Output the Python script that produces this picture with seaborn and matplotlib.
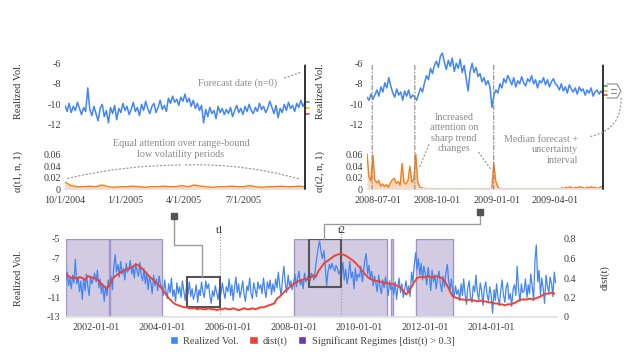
import pandas as pd
import matplotlib
matplotlib.use("Agg")
import matplotlib.pyplot as plt
import matplotlib.dates as mdates
from matplotlib.patches import Rectangle, Patch, ConnectionPatch, FancyArrowPatch
from matplotlib.lines import Line2D
import seaborn as sns

# ------------------------------------------------------------------
# data
# ------------------------------------------------------------------
# bottom panel: realized vol, semi-monthly, 2001-02 .. 2015-12
bottom_vol = [
    -9.2, -8.4, -9.8, -9.0, -10.1, -8.7, -9.5, -7.1, -9.6, -8.9, -10.4, -9.3, -11.2, -9.0, -10.3, -8.6, -9.9, -10.8, -8.8, -9.6, -9.1, -8.5,
    -9.4, -8.2, -10.0, -9.1, -10.6, -9.6, -11.4, -9.8, -10.8, -9.2, -9.9, -8.8, -10.2, -7.9, -6.6, -8.4, -7.6, -8.9, -7.3, -8.6, -8.0, -9.2, -7.5, -8.4,
    -8.1, -7.2, -8.6, -7.9, -9.0, -7.5, -8.3, -8.8, -7.4, -8.7, -9.3, -8.0, -9.6, -8.4, -10.2, -8.9, -9.5, -10.6, -8.7, -9.8, -9.1, -10.3, -8.8, -9.7,
    -9.9, -10.8, -9.2, -10.4, -11.1, -9.6, -10.5, -9.0, -10.9, -10.2, -11.4, -9.5, -10.6, -9.9, -11.0, -9.3, -10.4, -11.3, -9.8, -10.7, -9.4, -10.9, -10.1, -11.2,
    -10.6, -9.7, -11.5, -10.2, -10.8, -9.4, -10.5, -11.0, -9.3, -10.1, -9.6, -10.8, -11.6, -10.3, -10.9, -9.8, -10.6, -11.2, -10.0, -10.7, -9.5, -10.4, -11.1, -9.9,
    -10.4, -9.1, -10.8, -9.7, -11.3, -10.1, -8.9, -10.5, -9.6, -11.0, -10.2, -9.3, -10.7, -11.4, -9.8, -10.3, -9.0, -10.6, -11.1, -9.5, -10.2, -10.9, -9.4, -10.1,
    -9.7, -10.6, -9.0, -10.3, -11.0, -9.4, -10.1, -9.2, -10.7, -9.6, -10.4, -9.1, -10.0, -8.4, -9.9, -10.8, -8.9, -7.8, -9.6, -10.5, -8.7, -9.8, -9.3, -10.2,
    -9.5, -8.6, -9.9, -9.0, -8.3, -9.7, -9.2, -10.1, -8.5, -9.4, -9.0, -8.7, -9.3, -8.5, -8.9, -9.2, -7.8, -6.8, -5.8, -5.2, -6.4, -7.0, -6.2, -7.6,
    -9.8, -8.4, -7.6, -8.1, -7.5, -7.9, -8.3, -7.7, -8.0, -8.6, -8.2, -8.8, -7.4, -9.2, -8.1, -9.6, -8.7, -7.3, -9.0, -8.4, -10.1, -8.0, -9.3, -8.6,
    -8.9, -7.8, -9.4, -8.2, -7.1, -6.5, -8.6, -7.7, -9.1, -8.3, -9.8, -8.8, -9.5, -10.4, -8.7, -9.9, -10.6, -9.2, -10.0, -8.9, -9.7, -10.8, -9.3, -10.2,
    -9.9, -10.7, -9.4, -11.2, -10.1, -9.0, -10.5, -9.6, -11.0, -10.2, -9.3, -10.4, -9.8, -10.9, -8.4, -9.5, -7.6, -6.4, -8.1, -7.0, -8.7, -7.5, -9.2, -7.8,
    -8.6, -9.7, -7.9, -8.9, -10.3, -8.2, -9.4, -8.7, -10.1, -9.0, -8.3, -9.6, -10.4, -8.8, -9.9, -8.5, -7.6, -9.3, -10.2, -9.1, -10.6, -11.0, -9.8, -10.7,
    -10.2, -11.3, -9.6, -10.8, -9.1, -10.5, -11.7, -10.0, -9.3, -10.9, -11.5, -9.8, -10.4, -8.7, -10.6, -11.2, -9.5, -10.3, -11.8, -10.1, -9.4, -10.7, -11.4, -9.9,
    -10.8, -12.6, -10.2, -11.3, -9.6, -10.9, -11.8, -10.4, -9.2, -10.7, -11.5, -10.0, -9.5, -11.2, -10.6, -11.9, -10.1, -9.7, -10.8, -7.8, -10.3, -11.4, -9.6, -10.5,
    -10.3, -9.1, -11.0, -9.7, -10.6, -8.6, -9.9, -11.3, -7.2, -5.6, -9.4, -8.2, -10.8, -9.0, -10.2, -11.6, -8.7, -9.8, -10.5, -8.9, -9.6, -10.9, -8.4, -9.5,
]
bottom_start = "2001-02-01"

# bottom panel: dist(t), monthly, 2001-02 .. 2015-12
dist_vals = [
    0.44, 0.42, 0.40, 0.41, 0.39, 0.41, 0.40, 0.38, 0.42, 0.41, 0.40,
    0.39, 0.37, 0.34, 0.31, 0.29, 0.34, 0.39, 0.42, 0.44, 0.46, 0.47, 0.49,
    0.50, 0.51, 0.53, 0.54, 0.52, 0.49, 0.46, 0.43, 0.40, 0.38, 0.35, 0.32,
    0.29, 0.25, 0.21, 0.18, 0.15, 0.13, 0.12, 0.11, 0.10, 0.10, 0.09, 0.09,
    0.09, 0.08, 0.09, 0.08, 0.08, 0.09, 0.08, 0.08, 0.07, 0.08, 0.08, 0.09,
    0.08, 0.08, 0.09, 0.08, 0.07, 0.08, 0.09, 0.08, 0.08, 0.09, 0.08, 0.09,
    0.10, 0.10, 0.11, 0.12, 0.13, 0.14, 0.19, 0.21, 0.24, 0.27, 0.29, 0.32,
    0.34, 0.36, 0.37, 0.38, 0.39, 0.39, 0.40, 0.43, 0.41, 0.47, 0.51, 0.55,
    0.57, 0.59, 0.61, 0.63, 0.64, 0.65, 0.64, 0.63, 0.61, 0.59, 0.57, 0.54,
    0.51, 0.47, 0.44, 0.41, 0.39, 0.38, 0.37, 0.37, 0.36, 0.35, 0.35, 0.34,
    0.34, 0.33, 0.32, 0.30, 0.27, 0.23, 0.26, 0.31, 0.36, 0.40, 0.41, 0.41,
    0.41, 0.42, 0.41, 0.41, 0.42, 0.41, 0.40, 0.37, 0.32, 0.26, 0.21, 0.20,
    0.19, 0.18, 0.18, 0.17, 0.18, 0.17, 0.17, 0.16, 0.17, 0.16, 0.16, 0.15,
    0.15, 0.14, 0.14, 0.13, 0.13, 0.12, 0.13, 0.13, 0.14, 0.15, 0.17, 0.18,
    0.18, 0.18, 0.19, 0.18, 0.19, 0.20, 0.21, 0.23, 0.24, 0.24, 0.25, 0.24,
]
dist_start = "2001-02-01"

# significant regimes (dist > 0.3)
regime_starts = ["2001-02-01", "2002-06-05", "2008-01-10", "2010-12-18", "2011-09-22"]
regime_ends = ["2002-05-20", "2004-01-05", "2010-11-05", "2011-01-08", "2012-10-30"]

bottom_ticks = ["2002-01-01", "2004-01-01", "2006-01-01", "2008-01-01",
                "2010-01-01", "2012-01-01", "2014-01-01"]

# top-left window (t1)
t1_start, t1_end = "2004-10-01", "2005-10-04"
t1_vol = [
    -10.1, -10.7, -9.9, -10.8, -10.2, -10.6, -9.8, -10.4, -11.0, -10.3, -10.7, -8.4, -10.5, -11.1, -10.2, -10.9,
    -11.6, -10.4, -10.0, -11.2, -10.6, -11.8, -10.3, -10.9, -10.1, -11.5, -10.4, -10.8, -9.9, -10.6, -10.2, -11.0,
    -10.5, -9.8, -10.7, -10.3, -11.1, -10.0, -10.6, -9.7, -10.4, -10.9, -10.2, -9.9, -10.8, -10.3, -9.6, -10.5,
    -10.1, -10.7, -9.4, -9.9, -9.2, -9.8, -9.5, -10.1, -9.3, -9.7, -9.0, -9.8, -9.4, -10.2, -9.6, -10.4,
    -9.9, -10.6, -10.1, -11.8, -10.5, -11.2, -10.3, -10.9, -10.6, -11.4, -10.2, -10.8, -10.4, -11.0, -10.5, -10.9,
    -10.3, -11.2, -10.6, -10.1, -10.8, -10.4, -11.0, -10.2, -10.7, -10.0, -10.6, -10.9, -10.3, -10.7, -9.9, -10.5,
    -10.2, -10.8, -10.4, -9.7, -10.3, -10.9, -10.1, -11.3, -10.4, -10.8, -10.0, -10.6, -9.8, -10.4, -10.1, -10.7,
    -9.9, -10.3, -9.6, -10.2, -9.8,
]
t1_att = [
    0.012, 0.006, 0.004, 0.004, 0.005, 0.004, 0.007, 0.004, 0.003, 0.004,
    0.004, 0.005, 0.004, 0.003, 0.004, 0.004, 0.005, 0.004, 0.004, 0.006,
    0.004, 0.007, 0.005, 0.004, 0.003, 0.004, 0.004, 0.005, 0.004, 0.004,
    0.006, 0.004, 0.003, 0.004, 0.004, 0.005, 0.004, 0.004, 0.005, 0.004,
]
t1_ticks = ["2004-10-01", "2005-01-01", "2005-04-01", "2005-07-01"]
t1_tick_labels = ["10/1/2004", "1/1/2005", "4/1/2005", "7/1/2005"]
t1_forecast = [-9.8, -10.4, -10.9]
t1_box = (-12.0, -8.9)

# top-right window (t2)
t2_start, t2_end = "2008-06-14", "2009-06-14"
t2_vol = [
    -9.3, -9.6, -9.0, -9.5,
    -9.1, -8.6, -9.2, -8.3, -8.8, -7.9, -8.4, -7.4, -8.2, -8.9,
    -9.3, -8.5, -9.1, -8.8, -9.6, -8.7, -9.2, -8.6, -9.4, -9.1, -9.3,
    -9.6, -9.0, -8.4, -8.8, -7.9, -7.2, -7.6, -6.5, -7.0, -6.2, -5.8, -6.4, -5.3, -5.0, -5.9,
    -6.6, -5.7, -6.3, -5.5, -6.8, -6.0, -6.5, -5.6, -6.9, -6.2,
    -7.5, -8.7, -6.8, -6.0, -6.9, -6.4, -7.3, -7.0, -7.8, -7.4, -8.1, -7.7,
    -8.3, -10.3, -9.1, -8.6, -8.9, -8.0, -8.4, -7.5, -7.9, -7.2,
    -7.6, -8.1, -7.4, -8.3, -7.7, -8.0, -7.3, -7.9, -8.2, -7.5, -7.8, -7.2,
    -8.0, -7.6, -8.4, -7.7, -7.9, -7.4, -8.1, -7.6, -8.3, -7.8, -7.5, -8.0,
    -8.2, -8.6, -8.0, -8.7, -8.3, -8.9, -8.1, -8.5, -8.8, -8.4, -9.0, -8.3,
    -8.7, -8.5, -9.1, -8.6, -8.9, -8.4, -9.2, -8.8, -8.6, -9.0, -8.7, -9.0,
]
t2_att = [
    0.062, 0.022, 0.014, 0.060, 0.016, 0.011, 0.015, 0.005, 0.009, 0.004,
    0.008, 0.003, 0.011, 0.016, 0.019, 0.010, 0.013, 0.007, 0.045, 0.011,
    0.009, 0.015, 0.040, 0.012, 0.016, 0.062, 0.012, 0.004, 0.002, 0.001,
    0.001, 0.0005, 0.0006, 0.0004, 0.0005, 0.0007, 0.0005, 0.0004, 0.0006, 0.0005,
    0.0004, 0.0005, 0.0006, 0.0005, 0.0004, 0.0005, 0.0007, 0.0005, 0.0004, 0.0005,
    0.0006, 0.0005, 0.0004, 0.0005, 0.0006, 0.0005, 0.0004, 0.0005, 0.0006, 0.0005,
    0.0004, 0.0006, 0.0005, 0.0007, 0.0010, 0.046, 0.014, 0.004, 0.001,
    0.0008, 0.0006, 0.0005, 0.0004, 0.0005, 0.0006, 0.0005, 0.0004, 0.0005, 0.0006,
    0.0005, 0.0004, 0.0005, 0.0006, 0.0005, 0.0004, 0.0005, 0.0006, 0.0005, 0.0004,
    0.0005, 0.0006, 0.0005, 0.0004, 0.0005, 0.0006, 0.0005, 0.0004, 0.0005, 0.0006, 0.0005,
    0.002, 0.001, 0.003, 0.001, 0.004, 0.002, 0.001, 0.003, 0.002, 0.004, 0.003,
    0.002, 0.001, 0.003, 0.002, 0.004, 0.002, 0.003, 0.001, 0.002, 0.004, 0.003,
]
t2_ticks = ["2008-07-01", "2008-10-01", "2009-01-01", "2009-04-01"]
t2_tick_labels = ["2008-07-01", "2008-10-01", "2009-01-01", "2009-04-01"]
t2_events = ["2008-06-22", "2008-08-27", "2008-12-27"]
t2_forecast = [-8.2, -8.7, -9.1]
t2_box = (-9.9, -5.0)

# ------------------------------------------------------------------
# style
# ------------------------------------------------------------------
sns.set_theme(style="white")
plt.rcParams["font.family"] = ["Liberation Serif", "DejaVu Serif"]
plt.rcParams["font.size"] = 7
plt.rcParams["axes.unicode_minus"] = False

BLUE = "#4285F4"
RED = "#EA4335"
ORANGE = "#FA7B17"
PURPLE = "#673AB7"
GREEN = "#34A853"
YELLOW = "#FBBC05"
SPAN_FILL = "#d2cbe2"
SPAN_EDGE = "#a293cf"
TXT = "#3c3c3c"
NOTE = "#8a8a8a"

W, H = 631, 359
fig = plt.figure(figsize=(W / 100, H / 100), dpi=100)


def fp(x, y):
    # pixel position -> figure fraction
    return (x / W, 1 - y / H)


def dn(d):
    return mdates.date2num(pd.Timestamp(d))


def clean(ax):
    for s in ax.spines.values():
        s.set_visible(False)
    ax.tick_params(length=0, labelsize=7.3, labelcolor=TXT)
    ax.set_xlabel("")
    ax.set_ylabel("")


def top_panel(left, width, start, end, vol, att, ticks, tick_labels, alabel, fc):
    start, end = pd.Timestamp(start), pd.Timestamp(end)
    df_v = pd.DataFrame({"date": pd.date_range(start, end, periods=len(vol)), "vol": vol})
    df_a = pd.DataFrame({"date": pd.date_range(start, end, periods=len(att)), "att": att})

    axv = fig.add_axes([left / W, 1 - 130 / H, width / W, 78 / H])
    sns.lineplot(data=df_v, x="date", y="vol", ax=axv, color=BLUE, lw=1.1)
    axv.set_xlim(start, end)
    axv.set_ylim(-12.5, -4.9)
    axv.set_yticks([-12, -10, -8, -6])
    axv.set_xticks([])
    clean(axv)
    axv.tick_params(axis="y", pad=3)
    axv.set_ylabel("Realized Vol.", fontsize=7.5, color="#333333")
    axv.yaxis.set_label_coords(-42 / width, 0.5)

    # forecast quantile ticks just after the forecast date
    for val, col in zip(fc, [GREEN, YELLOW, RED]):
        axv.plot([end + pd.Timedelta(days=1), end + pd.Timedelta(days=6)], [val, val],
                 color=col, lw=1.2, clip_on=False)

    axa = fig.add_axes([left / W, 1 - 189 / H, width / W, 38 / H])
    sns.lineplot(data=df_a, x="date", y="att", ax=axa, color=ORANGE, lw=1.0)
    axa.fill_between(df_a["date"], df_a["att"], color=ORANGE, alpha=0.3, lw=0)
    axa.set_xlim(start, end)
    axa.set_ylim(0, 0.067)
    axa.set_yticks([0, 0.02, 0.04, 0.06])
    axa.set_yticklabels(["0", "0.02", "0.04", "0.06"])
    axa.set_xticks(pd.to_datetime(ticks))
    axa.set_xticklabels(tick_labels)
    clean(axa)
    axa.tick_params(axis="y", pad=3)
    axa.tick_params(axis="x", pad=5)
    axa.spines["bottom"].set_visible(True)
    axa.spines["bottom"].set_color("#e2e2e2")
    axa.set_ylabel(alabel, fontsize=7.5, color="#333333")
    axa.yaxis.set_label_coords(-42 / width, 0.45)

    # forecast date line across both axes
    con = ConnectionPatch(xyA=(dn(end), -6.2), coordsA=axv.transData,
                          xyB=(dn(end), 0), coordsB=axa.transData,
                          color="#222222", lw=1.3)
    fig.add_artist(con)
    return axv, axa


axv1, axa1 = top_panel(65, 240, t1_start, t1_end, t1_vol, t1_att,
                       t1_ticks, t1_tick_labels, "α(t1, n, 1)", t1_forecast)
axv2, axa2 = top_panel(367, 236, t2_start, t2_end, t2_vol, t2_att,
                       t2_ticks, t2_tick_labels, "α(t2, n, 1)", t2_forecast)

for d in t2_events:
    con = ConnectionPatch(xyA=(dn(d), -6.2), coordsA=axv2.transData,
                          xyB=(dn(d), 0), coordsB=axa2.transData,
                          color="#888888", lw=0.8, linestyle=(0, (4, 2, 1, 2)))
    fig.add_artist(con)

# ------------------------------------------------------------------
# bottom panel
# ------------------------------------------------------------------
df_b = pd.DataFrame({"date": pd.date_range(bottom_start, periods=len(bottom_vol), freq="SMS"),
                     "vol": bottom_vol})
df_d = pd.DataFrame({"date": pd.date_range(dist_start, periods=len(dist_vals), freq="MS"),
                     "dist": dist_vals})

axb = fig.add_axes([66 / W, 1 - 317 / H, 491 / W, 78 / H])
for s, e in zip(regime_starts, regime_ends):
    axb.axvspan(pd.Timestamp(s), pd.Timestamp(e), facecolor=SPAN_FILL,
                edgecolor=SPAN_EDGE, lw=1.0, zorder=0)
sns.lineplot(data=df_b, x="date", y="vol", ax=axb, color=BLUE, lw=0.9, zorder=2)
axb.set_xlim(pd.Timestamp("2001-02-01"), pd.Timestamp("2015-12-31"))
axb.set_ylim(-13, -5)
axb.set_yticks([-13, -11, -9, -7, -5])
axb.set_xticks(pd.to_datetime(bottom_ticks))
axb.set_xticklabels(bottom_ticks)
clean(axb)
axb.tick_params(axis="x", pad=4)
axb.tick_params(axis="y", pad=4)
axb.spines["bottom"].set_visible(True)
axb.spines["bottom"].set_color("#e2e2e2")
axb.set_ylabel("Realized Vol.", fontsize=7.5, color="#333333")
axb.yaxis.set_label_coords(-43 / 491, 0.5)

axr = axb.twinx()
axr.fill_between(df_d["date"], df_d["dist"] - 0.012, df_d["dist"] + 0.012,
                 color=RED, alpha=0.2, lw=0)
sns.lineplot(data=df_d, x="date", y="dist", ax=axr, color=RED, lw=1.3)
axr.set_ylim(0, 0.8)
axr.set_yticks([0, 0.2, 0.4, 0.6, 0.8])
axr.set_yticklabels(["0", "0.2", "0.4", "0.6", "0.8"])
clean(axr)
axr.tick_params(axis="y", pad=5)
axr.set_ylabel("dist(t)", fontsize=7.5, color="#333333")
axr.yaxis.set_label_coords(1 + 43 / 491, 0.5)

# window boxes + t markers
for (start, end, (ylo, yhi), name) in [(t1_start, t1_end, t1_box, "t1"),
                                       (t2_start, t2_end, t2_box, "t2")]:
    s, e = dn(start), dn(end)
    axb.add_patch(Rectangle((s, ylo), e - s, yhi - ylo, fill=False,
                            edgecolor="#555555", lw=1.5, zorder=5))
    axb.axvline(pd.Timestamp(end), ymin=0, ymax=1.08, color="#999999", lw=0.8, ls=":",
                clip_on=False)
    axb.text(pd.Timestamp(end), -4.1, name, ha="center", va="center", fontsize=7.3,
             color="#222222")

# connectors from the zoom panels to the boxes
for pts, sq in [([(174, 216), (174, 245), (202, 245), (202, 277)], (174, 216)),
                ([(480, 212), (480, 224), (324, 224), (324, 239)], (480, 212))]:
    xs, ys = zip(*[fp(x, y) for x, y in pts])
    fig.add_artist(Line2D(xs, ys, transform=fig.transFigure, color="#9a9a9a", lw=1.0))
    fig.add_artist(Line2D([fp(*sq)[0]], [fp(*sq)[1]], transform=fig.transFigure,
                          marker="s", markersize=4, color="#555555", lw=0))


# ------------------------------------------------------------------
# annotations
# ------------------------------------------------------------------
def dotted(a, b, rad=0.0):
    fig.add_artist(FancyArrowPatch(fp(*a), fp(*b), transform=fig.transFigure,
                                   arrowstyle="-", connectionstyle=f"arc3,rad={rad}",
                                   linestyle=(0, (1, 2)), color="#9a9a9a", lw=0.9))


fig.text(*fp(238, 83), "Forecast date (n=0)", ha="center", va="center", color=NOTE, fontsize=7.3)
dotted((282, 79), (304, 71))

fig.text(*fp(181, 149), "Equal attention over range-bound\nlow volatility periods",
         ha="center", va="center", color=NOTE, fontsize=7.3, linespacing=1.15)
dotted((65, 179), (183, 165), rad=-0.06)
dotted((183, 165), (303, 180), rad=-0.08)

fig.text(*fp(454, 133), "Increased\nattention on\nsharp trend\nchanges",
         ha="center", va="center", color=NOTE, fontsize=7.3, linespacing=1.15)
dotted((430, 142), (418, 171))
dotted((477, 150), (492, 171))

fig.text(*fp(578, 150), "Median forecast +\nuncertainty\ninterval",
         ha="right", va="center", color=NOTE, fontsize=7.3, linespacing=1.15,
         multialignment="right")
dotted((588, 137), (621, 94), rad=0.45)

# small bracket around the forecast interval
bx, by = zip(*[fp(x, y) for x, y in [(607, 84), (617, 84), (621, 91), (617, 98), (607, 98)]])
fig.add_artist(Line2D(bx, by, transform=fig.transFigure, color="#8a8a8a", lw=0.8))
for yy in (89, 93):
    lx, ly = zip(fp(611, yy), fp(616, yy))
    fig.add_artist(Line2D(lx, ly, transform=fig.transFigure, color="#8a8a8a", lw=0.8))

# legend
handles = [Patch(facecolor=BLUE, label="Realized Vol."),
           Patch(facecolor=RED, label="dist(t)"),
           Patch(facecolor=PURPLE, label="Significant Regimes [dist(t) > 0.3]")]
fig.legend(handles=handles, loc="center", bbox_to_anchor=fp(312, 341), ncol=3,
           frameon=False, fontsize=7.5, handlelength=0.8, handleheight=0.8,
           handletextpad=0.5, columnspacing=1.0, labelcolor="#444444")

fig.savefig("out.png", dpi=100)
